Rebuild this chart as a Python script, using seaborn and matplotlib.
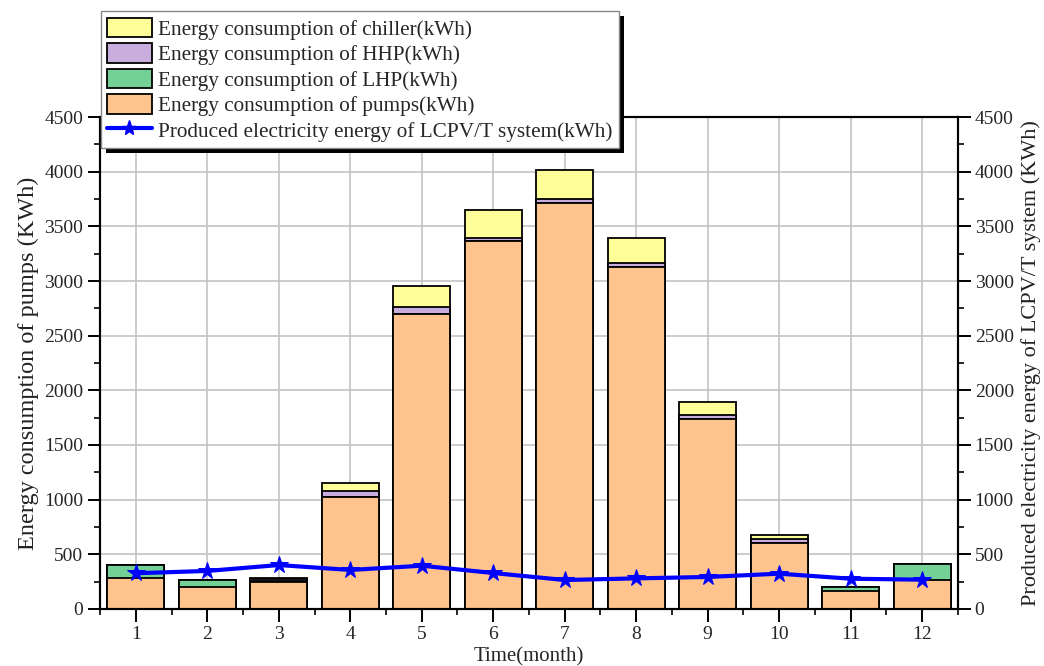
import matplotlib
matplotlib.use("Agg")
import matplotlib.pyplot as plt
from matplotlib.patches import Patch, Rectangle
from matplotlib.lines import Line2D
from matplotlib.ticker import MultipleLocator
import pandas as pd
import seaborn as sns

months = [1, 2, 3, 4, 5, 6, 7, 8, 9, 10, 11, 12]
pumps = [280, 201, 245, 1025, 2695, 3367, 3714, 3125, 1735, 604, 165, 268]
lhp = [120, 64, 15, 0, 0, 0, 0, 0, 0, 0, 39, 144]
hhp = [0, 0, 15, 57, 64, 30, 37, 37, 40, 39, 0, 0]
chiller = [0, 0, 10, 71, 192, 250, 268, 229, 122, 34, 0, 0]
pv_output = [327, 348, 402, 357, 396, 329, 265, 280, 293, 323, 277, 268]

labels = {
    "chiller": "Energy consumption of chiller(kWh)",
    "hhp": "Energy consumption of HHP(kWh)",
    "lhp": "Energy consumption of LHP(kWh)",
    "pumps": "Energy consumption of pumps(kWh)",
    "pv": "Produced electricity energy of LCPV/T system(kWh)",
}
colors = {
    "chiller": "#FFFF99",
    "hhp": "#C9AEDD",
    "lhp": "#74D195",
    "pumps": "#FFC38E",
}

sns.set_theme(style="white")
plt.rcParams["font.family"] = ["Liberation Serif", "DejaVu Serif"]

df = pd.DataFrame({"month": months, "pumps": pumps, "lhp": lhp,
                   "hhp": hhp, "chiller": chiller, "pv": pv_output})
df["c_lhp"] = df["pumps"] + df["lhp"]
df["c_hhp"] = df["c_lhp"] + df["hhp"]
df["c_chiller"] = df["c_hhp"] + df["chiller"]

fig = plt.figure(figsize=(10.44, 6.66), dpi=100)
ax = fig.add_axes([0.0958, 0.0856, 0.8218, 0.7387])
ax.set_axisbelow(True)

# stacked bars drawn as overlapping cumulative totals, tallest first
for col, key in [("c_chiller", "chiller"), ("c_hhp", "hhp"),
                 ("c_lhp", "lhp"), ("pumps", "pumps")]:
    sns.barplot(data=df, x="month", y=col, native_scale=True, width=0.8,
                color=colors[key], saturation=1, edgecolor="black",
                linewidth=1.3, ax=ax)

ax.set_xlim(0.5, 12.5)
ax.set_ylim(0, 4500)
ax.xaxis.set_major_locator(MultipleLocator(1))
ax.xaxis.set_minor_locator(MultipleLocator(0.5))
ax.yaxis.set_major_locator(MultipleLocator(500))
ax.yaxis.set_minor_locator(MultipleLocator(250))
ax.grid(True, which="major", color="#c4c4c4", linewidth=1.2)
ax.set_xlabel("Time(month)", fontsize=15, labelpad=3)
ax.set_ylabel("Energy consumption of pumps (KWh)", fontsize=17.5,
              labelpad=4, color="#222222")

ax2 = ax.twinx()
sns.lineplot(data=df, x="month", y="pv", color="#0000FF", linewidth=3,
             marker="*", markersize=13, markeredgecolor="#0000FF", ax=ax2)
ax2.set_ylim(0, 4500)
ax2.yaxis.set_major_locator(MultipleLocator(500))
ax2.yaxis.set_minor_locator(MultipleLocator(250))
ax2.set_ylabel("Produced electricity energy of LCPV/T system (KWh)",
               fontsize=16, labelpad=5, color="#222222")

for a in (ax, ax2):
    for s in a.spines.values():
        s.set_color("black")
        s.set_linewidth(1.5)
    a.tick_params(which="major", direction="out", length=9, width=1.4,
                  labelsize=14, color="black", pad=3)
    a.tick_params(which="minor", direction="out", length=4, width=1.2,
                  color="black")
ax.tick_params(axis="y", which="both", left=True, right=False)
ax.tick_params(axis="x", which="both", bottom=True, top=False)
ax2.tick_params(axis="y", which="both", right=True, left=False)

handles = [
    Patch(facecolor=colors["chiller"], edgecolor="black", linewidth=1.3),
    Patch(facecolor=colors["hhp"], edgecolor="black", linewidth=1.3),
    Patch(facecolor=colors["lhp"], edgecolor="black", linewidth=1.3),
    Patch(facecolor=colors["pumps"], edgecolor="black", linewidth=1.3),
    Line2D([], [], color="#0000FF", linewidth=3, marker="*", markersize=11),
]
leg = fig.legend(handles, [labels["chiller"], labels["hhp"], labels["lhp"],
                           labels["pumps"], labels["pv"]],
                 loc="upper left", bbox_to_anchor=(0.0965, 0.983),
                 fontsize=15.3, frameon=True, fancybox=False, shadow=False,
                 handlelength=2.1, handleheight=1.05, labelspacing=0.16,
                 handletextpad=0.3, borderpad=0.3, borderaxespad=0)
leg.get_frame().set_edgecolor("#888888")
leg.get_frame().set_linewidth(1.0)
leg.get_frame().set_alpha(1)
leg.set_zorder(6)

# solid black drop shadow behind the legend box
fig.canvas.draw()
bb = leg.get_window_extent().transformed(fig.transFigure.inverted())
dx, dy = 5 / fig.bbox.width, 5 / fig.bbox.height
fig.patches.append(Rectangle((bb.x0 + dx, bb.y0 - dy), bb.width, bb.height,
                             transform=fig.transFigure, facecolor="black",
                             edgecolor="none", zorder=5.5))

fig.savefig("out.png", dpi=100)
